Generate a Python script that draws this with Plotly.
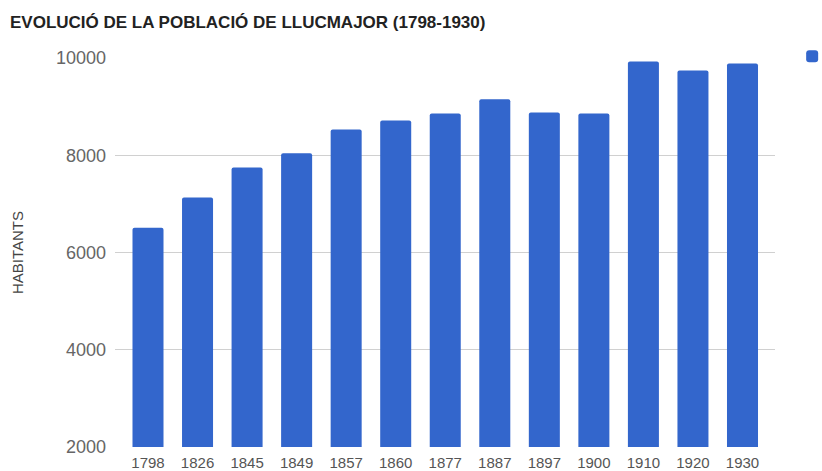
import plotly.graph_objects as go

years = ["1798", "1826", "1845", "1849", "1857", "1860", "1877",
         "1887", "1897", "1900", "1910", "1920", "1930"]
habitants = [6510, 7130, 7750, 8040, 8530, 8715, 8860,
             9150, 8880, 8860, 9930, 9745, 9885]
y_ticks = [2000, 4000, 6000, 8000, 10000]
y_tick_labels = ["2000", "4000", "6000", "8000", "10000"]

fig = go.Figure()
fig.add_trace(go.Bar(
    x=years, y=habitants, name="Habitants",
    marker=dict(color="#3366CC", line=dict(width=0), cornerradius=2),
))

fig.update_layout(
    width=822, height=471,
    margin=dict(l=115, r=47, t=58, b=24, autoexpand=False),
    paper_bgcolor="white", plot_bgcolor="white",
    bargap=0.374,
    title=dict(text="<b>EVOLUCIÓ DE LA POBLACIÓ DE LLUCMAJOR (1798-1930)</b>",
               x=10/822, xanchor="left", xref="container",
               y=1 - 22/471, yanchor="middle", yref="container",
               font=dict(family="Liberation Sans, Arial, sans-serif", size=17, color="#222222")),
    showlegend=True,
    legend=dict(x=1.026, y=1.046, xanchor="left", yanchor="top",
                font=dict(family="Liberation Sans, Arial, sans-serif", size=15, color="#222222"),
                bgcolor="rgba(0,0,0,0)"),
    font=dict(family="Liberation Sans, Arial, sans-serif"),
)

fig.update_xaxes(
    type="category", range=[-0.666, 12.656],
    showgrid=False, showline=False, ticks="",
    ticklabelstandoff=5,
    tickfont=dict(family="Liberation Sans, Arial, sans-serif",
                  size=15, color="#555555"),
)
fig.update_yaxes(
    range=[2000, 10000], tickvals=y_ticks, ticktext=y_tick_labels,
    showgrid=True, gridcolor="#d0d0d0", gridwidth=1,
    zeroline=False, showline=False, ticks="",
    ticklabelstandoff=8,
    tickfont=dict(family="Liberation Sans, Arial, sans-serif", size=18, color="#666666"),
    title=dict(text="HABITANTS", standoff=28,
               font=dict(family="Liberation Sans, Arial, sans-serif", size=15, color="#444444")),
)

fig.write_html("out.html", config={"displayModeBar": False},
               post_script="document.body.style.margin='0';")
